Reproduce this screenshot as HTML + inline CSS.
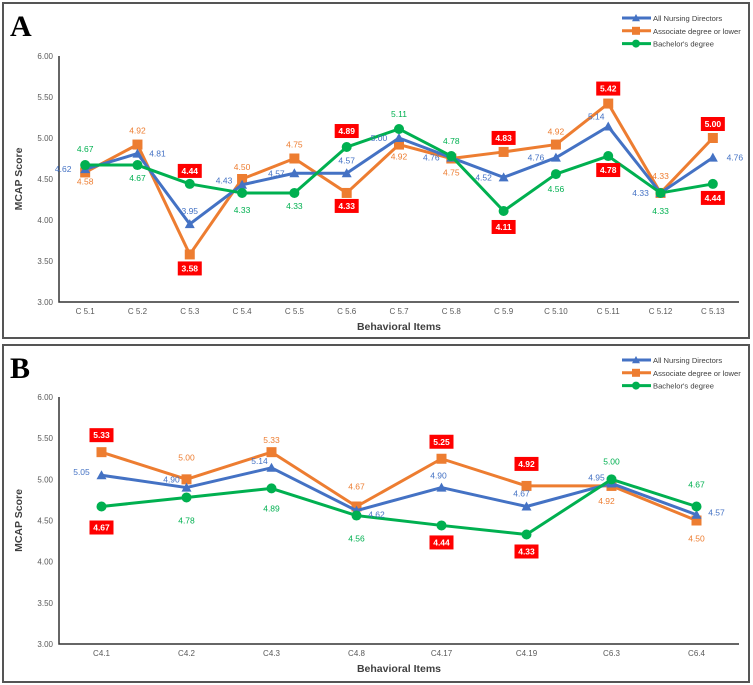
<!DOCTYPE html>
<html><head><meta charset="utf-8"><style>
body{margin:0;background:#fff;width:753px;height:685px;overflow:hidden}
svg{display:block;font-family:"Liberation Sans",sans-serif}
</style></head><body>
<svg id="chart" width="753" height="685"></svg>
<script>
const seriesNames = ["All Nursing Directors","Associate degree or lower","Bachelor's degree"];
const categoriesA = ["C 5.1","C 5.2","C 5.3","C 5.4","C 5.5","C 5.6","C 5.7","C 5.8","C 5.9","C 5.10","C 5.11","C 5.12","C 5.13"];
const allA = [4.62,4.81,3.95,4.43,4.57,4.57,5.00,4.76,4.52,4.76,5.14,4.33,4.76];
const assocA = [4.58,4.92,3.58,4.50,4.75,4.33,4.92,4.75,4.83,4.92,5.42,4.33,5.00];
const bachA = [4.67,4.67,4.44,4.33,4.33,4.89,5.11,4.78,4.11,4.56,4.78,4.33,4.44];
const categoriesB = ["C4.1","C4.2","C4.3","C4.8","C4.17","C4.19","C6.3","C6.4"];
const allB = [5.05,4.90,5.14,4.62,4.90,4.67,4.95,4.57];
const assocB = [5.33,5.00,5.33,4.67,5.25,4.92,4.92,4.50];
const bachB = [4.67,4.78,4.89,4.56,4.44,4.33,5.00,4.67];
const yTicks = [3.00,3.50,4.00,4.50,5.00,5.50,6.00];
const boxedA = [[],[0,0,1,0,0,1,0,0,1,0,1,0,1],[0,0,1,0,0,1,0,0,1,0,1,0,1]];
const boxedB = [[],[1,0,0,0,1,1,0,0],[1,0,0,0,1,1,0,0]];

const NS="http://www.w3.org/2000/svg";
const svg=document.getElementById('chart');
const colors=["#4472C4","#ED7D31","#00B050"];
function mk(tag,attrs,parent){const e=document.createElementNS(NS,tag);for(const k in attrs)e.setAttribute(k,attrs[k]);(parent||svg).appendChild(e);return e;}

const offA=[
 [[-22,0],[20,0],[0,-13],[-18,-4],[-18,0],[0,-13],[-20,0],[-20,0],[-20,0],[-20,0],[-12,-10],[-20,0],[22,0]],
 [[0,9],[0,-14],[0,14],[0,-12],[0,-14],[0,13],[0,12],[0,14],[0,-14],[0,-13],[0,-15],[0,-17],[0,-14]],
 [[0,-16],[0,13],[0,-13],[0,17],[0,13],[0,-16],[0,-15],[0,-15],[0,16],[0,15],[0,14],[0,18],[0,14]]];
const offB=[
 [[-20,-3],[-15,-8],[-12,-7],[20,4],[-3,-12],[-5,-13],[-15,-6],[20,-2]],
 [[0,-17],[0,-22],[0,-12],[0,-20],[0,-17],[0,-22],[-5,15],[0,18]],
 [[0,21],[0,23],[0,20],[0,23],[0,17],[0,17],[0,-18],[0,-22]]];

function panel(o){
 const g=mk('g',{});
 
 
 const fr=mk('rect',{x:3,y:o.top,width:746,height:o.h,fill:'#fff',stroke:'#555','stroke-width':2},g);
 
 
 const lt=mk('text',{x:10,y:o.top+33,'font-family':'Liberation Serif,serif','font-weight':'bold','font-size':30,fill:'#000'},g);
 lt.textContent=o.letter;
 
 
 const x0=59,x1=739,yb=o.yb,yt=o.yt,n=o.cats.length,step=(x1-x0)/n;
 const X=i=>x0+step*(i+0.5);
 const Y=v=>yb-(v-3)/3*(yb-yt);
 yTicks.forEach(t=>{const tx=mk('text',{x:x0-6,y:Y(t)+3,'text-anchor':'end','font-size':8,fill:'#595959'},g);tx.textContent=t.toFixed(2);
  });
 const ax=mk('path',{d:`M${x0} ${yt}V${yb}H${x1}`,stroke:'#333','stroke-width':1.5,fill:'none'},g);
 
 o.cats.forEach((c,i)=>{const tx=mk('text',{x:X(i),y:yb+12,'text-anchor':'middle','font-size':8,fill:'#595959'},g);tx.textContent=c;
  });
 const xt=mk('text',{x:(x0+x1)/2,y:yb+28,'text-anchor':'middle','font-size':10.5,'font-weight':'bold',fill:'#404040'},g);xt.textContent='Behavioral Items';
 
 const yc=(yt+yb)/2;
 const yl=mk('text',{x:22,y:yc,transform:`rotate(-90 22 ${yc})`,'text-anchor':'middle','font-size':10.5,'font-weight':'bold',fill:'#404040'},g);yl.textContent='MCAP Score';
 
 [1,0,2].forEach(s=>{
  const vals=o.data[s];
  const ln=mk('polyline',{points:vals.map((v,i)=>X(i)+','+Y(v)).join(' '),fill:'none',stroke:colors[s],'stroke-width':3,'stroke-linejoin':'round'},g);
  
  vals.forEach((v,i)=>{marker(g,s,X(i),Y(v));});
 });
 [0,1,2].forEach(s=>{
  o.data[s].forEach((v,i)=>{
   const [dx,dy]=o.off[s][i];const cx=X(i)+dx,cy=Y(v)+dy;const boxed=o.boxed[s][i];
   if(boxed){const r=mk('rect',{x:cx-12,y:cy-7,width:24,height:14,fill:'#FF0000'},g);
    }
   const t=mk('text',{x:cx,y:cy+3,'text-anchor':'middle','font-size':8.5,fill:boxed?'#fff':colors[s],'font-weight':boxed?'bold':'normal'},g);
   t.textContent=v.toFixed(2);
   
  });
 });
 seriesNames.forEach((nm,s)=>{
  const ly=o.legY+s*12.8;
  const lg=mk('g',{},g);
  
  mk('line',{x1:622,y1:ly,x2:651,y2:ly,stroke:colors[s],'stroke-width':3},lg);
  marker(lg,s,636,ly,0.8);
  const t=mk('text',{x:653,y:ly+3,'font-size':7.6,fill:'#404040'},lg);t.textContent=nm;
 });
}
function marker(g,s,x,y,k){k=k||1;let m;
 if(s===0)m=mk('polygon',{points:`${x},${y-5*k} ${x-5*k},${y+4*k} ${x+5*k},${y+4*k}`,fill:colors[0]},g);
 else if(s===1)m=mk('rect',{x:x-5*k,y:y-5*k,width:10*k,height:10*k,fill:colors[1]},g);
 else m=mk('circle',{cx:x,cy:y,r:5*k,fill:colors[2]},g);
 }

panel({name:'panel-a',letter:'A',top:3,h:335,yb:302,yt:56,cats:categoriesA,data:[allA,assocA,bachA],off:offA,boxed:boxedA,legY:18});
panel({name:'panel-b',letter:'B',top:345,h:337,yb:644,yt:397,cats:categoriesB,data:[allB,assocB,bachB],off:offB,boxed:boxedB,legY:360});
</script>
</body></html>
